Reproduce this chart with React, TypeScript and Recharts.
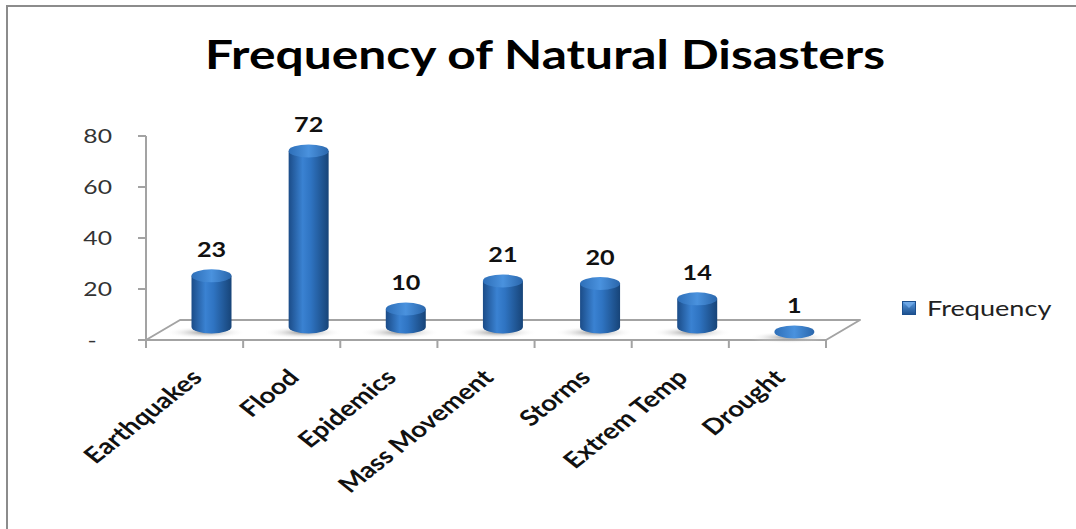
import {
  BarChart,
  Bar,
  XAxis,
  YAxis,
  ReferenceArea,
  LabelList,
  Legend,
} from 'recharts'

const categories = [
  'Earthquakes',
  'Flood',
  'Epidemics',
  'Mass Movement',
  'Storms',
  'Extrem Temp',
  'Drought',
]
const frequency = [23, 72, 10, 21, 20, 14, 1]
const yTicks = [0, 20, 40, 60, 80]

const data = categories.map((name, i) => ({ name, frequency: frequency[i] }))

const FONT = 'Lato, "Open Sans", sans-serif'
const GRID = '#a3a3a3'
// text is drawn a little wide, like the rest of the sheet
const STRETCH = 1.26

// floor depth offset of the pseudo-3d plot
const DEPTH_X = 34
const DEPTH_Y = -20
// cylinders stand half way into the floor
const SHIFT_X = 16.5
const RY = 6.5

function Floor(props: any) {
  const { x, y, width } = props
  const n = categories.length
  const pts = [
    [x, y],
    [x + DEPTH_X, y + DEPTH_Y],
    [x + width + DEPTH_X, y + DEPTH_Y],
    [x + width, y],
  ]
  return (
    <g>
      <polygon
        points={pts.map((p) => p.join(',')).join(' ')}
        fill="#fff"
        stroke={GRID}
        strokeWidth={2}
        strokeLinejoin="round"
      />
      {Array.from({ length: n + 1 }, (_, i) => {
        const tx = x + (width * i) / n
        return <line key={i} x1={tx} x2={tx} y1={y} y2={y + 8} stroke={GRID} strokeWidth={2} />
      })}
    </g>
  )
}

function Cylinder(props: any) {
  const { x, y, width, height } = props
  const rx = width / 2
  const cx = x + rx + SHIFT_X
  const top = y - 5.5
  const bottom = Math.max(top, y + height - 13)
  return (
    <g>
      <ellipse cx={cx - 6} cy={bottom + RY - 1} rx={rx + 20} ry={6} fill="url(#floorShadow)" />
      {bottom > top && (
        <path
          d={`M${cx - rx},${top} L${cx - rx},${bottom} A${rx},${RY} 0 0 0 ${cx + rx},${bottom} L${cx + rx},${top} Z`}
          fill="url(#cylBody)"
        />
      )}
      <ellipse cx={cx} cy={top} rx={rx} ry={RY} fill="url(#cylTop)" />
    </g>
  )
}

function ValueLabel(props: any) {
  const { x, y, width, value } = props
  const lx = x + width / 2 + SHIFT_X
  const ly = y - 5.5 - 19
  return (
    <text
      transform={`translate(${lx} ${ly}) scale(${STRETCH} 1)`}
      textAnchor="middle"
      fontFamily={FONT}
      fontWeight={700}
      fontSize={20}
      fill="#111"
    >
      {value}
    </text>
  )
}

function CategoryTick(props: any) {
  const { x, y, payload } = props
  return (
    <text
      transform={`translate(${x + 9} ${y + 31}) scale(${STRETCH} 1) rotate(-45)`}
      textAnchor="end"
      fontFamily={FONT}
      fontWeight={700}
      fontSize={22}
      fill="#111"
    >
      {payload.value}
    </text>
  )
}

function ValueTick(props: any) {
  const { x, y, payload } = props
  const zero = payload.value === 0
  return (
    <text
      transform={`translate(${zero ? x - 44 : x - 24} ${y + 7}) scale(1.3 1)`}
      textAnchor={zero ? 'middle' : 'end'}
      fontFamily={FONT}
      fontSize={19}
      fill="#333"
    >
      {zero ? '-' : payload.value}
    </text>
  )
}

function LegendBox() {
  return (
    <div style={{ display: 'flex', alignItems: 'center', fontFamily: FONT, fontSize: 21.5, color: '#222' }}>
      <svg width={14} height={14} style={{ marginRight: 11 }}>
        <defs>
          <linearGradient id="legendFill" x1="0" y1="0" x2="0" y2="1">
            <stop offset="0" stopColor="#5a9be0" />
            <stop offset="1" stopColor="#1b4f8e" />
          </linearGradient>
        </defs>
        <rect x={0.5} y={0.5} width={13} height={13} fill="url(#legendFill)" stroke="#1b4f8e" />
        <path d="M1,1 L7,7 L13,1 Z" fill="#74acea" opacity={0.8} />
      </svg>
      <span style={{ display: 'inline-block', transform: `scaleX(${STRETCH})`, transformOrigin: 'left center' }}>
        Frequency
      </span>
    </div>
  )
}

export default function App() {
  return (
    <div style={{ position: 'absolute', left: 0, top: 0, width: 1076, height: 529, background: '#fff' }}>
      <div
        style={{
          position: 'absolute',
          left: 6,
          top: 5,
          right: 0,
          bottom: 0,
          borderTop: '2px solid #8c8c8c',
          borderLeft: '2px solid #8c8c8c',
        }}
      />
      <svg style={{ position: 'absolute', left: 0, top: 0 }} width={1076} height={100}>
        <text
          x={545}
          y={69}
          textAnchor="middle"
          textLength={680}
          lengthAdjust="spacingAndGlyphs"
          fontFamily={FONT}
          fontWeight={700}
          fontSize={40}
          fill="#000"
        >
          Frequency of Natural Disasters
        </text>
      </svg>
      <div style={{ position: 'absolute', left: 0, top: 0 }}>
        <BarChart
          width={1076}
          height={529}
          data={data}
          margin={{ top: 136, right: 250, bottom: 9, left: 86 }}
        >
          <defs>
            <linearGradient id="cylBody" x1="0" y1="0" x2="1" y2="0">
              <stop offset="0" stopColor="#1b4c88" />
              <stop offset="0.35" stopColor="#3a82d2" />
              <stop offset="0.55" stopColor="#2f74c2" />
              <stop offset="1" stopColor="#174478" />
            </linearGradient>
            <linearGradient id="cylTop" x1="0" y1="0" x2="1" y2="0">
              <stop offset="0" stopColor="#2e6fb8" />
              <stop offset="0.5" stopColor="#4a92de" />
              <stop offset="1" stopColor="#2a66ab" />
            </linearGradient>
            <radialGradient id="floorShadow">
              <stop offset="0" stopColor="#7a7a7a" stopOpacity={0.8} />
              <stop offset="1" stopColor="#ffffff" stopOpacity={0} />
            </radialGradient>
          </defs>
          <XAxis
            dataKey="name"
            height={180}
            axisLine={false}
            tickLine={false}
            interval={0}
            tick={<CategoryTick />}
          />
          <YAxis
            width={60}
            domain={[0, 80]}
            ticks={yTicks}
            tickSize={8}
            tickMargin={2}
            axisLine={{ stroke: GRID, strokeWidth: 2 }}
            tickLine={{ stroke: GRID, strokeWidth: 2 }}
            tick={<ValueTick />}
          />
          <ReferenceArea
            x1={categories[0]}
            x2={categories[categories.length - 1]}
            y1={0}
            y2={0}
            ifOverflow="visible"
            shape={<Floor />}
          />
          <Legend
            layout="horizontal"
            verticalAlign="middle"
            align="center"
            wrapperStyle={{ left: 902, top: 295, width: 174 }}
            content={<LegendBox />}
          />
          <Bar dataKey="frequency" barSize={40} shape={<Cylinder />} isAnimationActive={false}>
            <LabelList dataKey="frequency" content={<ValueLabel />} />
          </Bar>
        </BarChart>
      </div>
    </div>
  )
}
